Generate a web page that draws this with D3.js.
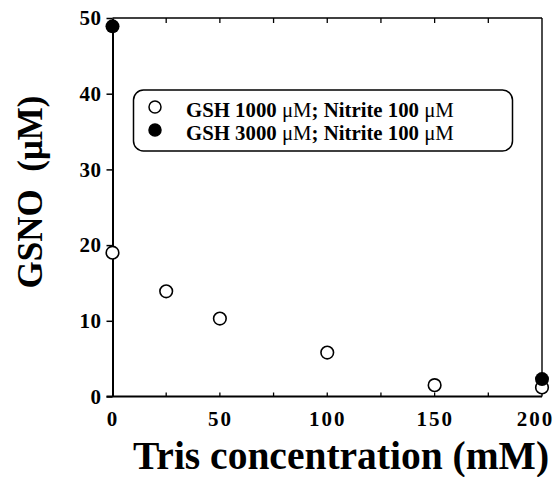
<!DOCTYPE html>
<meta charset="utf-8">
<style>
body { margin: 0; background: #fff; }
text { font-family: "Liberation Serif", "Times New Roman", serif; font-weight: bold; fill: #000; }
</style>
<svg width="560" height="477"></svg>
<script src="https://cdnjs.cloudflare.com/ajax/libs/d3/7.8.5/d3.min.js"></script>
<script>
// Tris concentration (mM) and GSNO formed (uM)
var trisLow = [0, 25, 50, 100, 150, 200];
var gsnoLow = [19.0, 13.9, 10.3, 5.8, 1.5, 1.2];     // GSH 1000 uM
var trisHigh = [0, 200];
var gsnoHigh = [48.9, 2.3];                           // GSH 3000 uM

var xTicks = [0, 50, 100, 150, 200];
var xMinor = [25, 50, 75, 100, 125, 150, 175];
var yTicks = [0, 10, 20, 30, 40, 50];

var svg = d3.select("svg");

var x = d3.scaleLinear().domain([0, 200]).range([112.5, 542]);
var y = d3.scaleLinear().domain([0, 50]).range([396.5, 18]);

// frame: top and right
svg.append("line")
    .attr("x1", x(0)).attr("x2", x(200))
    .attr("y1", y(50)).attr("y2", y(50))
    .attr("stroke", "#000").attr("stroke-width", 1.4);
svg.append("line")
    .attr("x1", x(200)).attr("x2", x(200))
    .attr("y1", y(50)).attr("y2", y(0))
    .attr("stroke", "#000").attr("stroke-width", 1.4);

// inner ticks top/bottom
svg.append("g").selectAll("line")
  .data(xMinor)
  .enter().append("line")
    .attr("x1", d => x(d)).attr("x2", d => x(d))
    .attr("y1", y(50)).attr("y2", y(50) + 5)
    .attr("stroke", "#000").attr("stroke-width", 1.3);
svg.append("g").selectAll("line")
  .data(xMinor)
  .enter().append("line")
    .attr("x1", d => x(d)).attr("x2", d => x(d))
    .attr("y1", y(0)).attr("y2", y(0) - 4)
    .attr("stroke", "#000").attr("stroke-width", 1.3);

// left axis
var yAxis = svg.append("g")
    .attr("transform", "translate(" + x(0) + ",0)")
    .call(d3.axisLeft(y).tickValues(yTicks).tickSize(6).tickPadding(5).tickSizeOuter(0));
yAxis.select(".domain").attr("stroke-width", 2);
yAxis.selectAll(".tick line").attr("stroke-width", 1.5);
yAxis.selectAll("text")
    .attr("font-family", "Liberation Serif")
    .attr("font-weight", "bold")
    .attr("font-size", 21)
    .attr("letter-spacing", 0.5)
    .attr("fill", "#000");

// bottom axis
var xAxis = svg.append("g")
    .attr("transform", "translate(0," + y(0) + ")")
    .call(d3.axisBottom(x).tickValues(xTicks).tickSize(0).tickPadding(15).tickSizeOuter(0));
xAxis.select(".domain").attr("stroke-width", 2).attr("d", "M" + (x(0) - 6) + ",0H" + x(200));
xAxis.selectAll("text")
    .attr("font-family", "Liberation Serif")
    .attr("font-weight", "bold")
    .attr("font-size", 21)
    .attr("letter-spacing", 2)
    .attr("dx", d => d === 200 ? -7 : 0)
    .attr("fill", "#000");

// axis titles
svg.append("text")
    .attr("transform", "translate(42,192) rotate(-90)")
    .attr("text-anchor", "middle")
    .attr("font-size", 35)
    .attr("xml:space", "preserve")
    .text("GSNO  (\u03bcM)");

svg.append("text")
    .attr("x", 341).attr("y", 469)
    .attr("text-anchor", "middle")
    .attr("font-size", 39.5)
    .text("Tris concentration (mM)");

// points
svg.append("g").selectAll("circle")
  .data(trisLow.map((t, i) => [t, gsnoLow[i]]))
  .enter().append("circle")
    .attr("cx", d => x(d[0])).attr("cy", d => y(d[1]))
    .attr("r", 6.3)
    .attr("fill", "#fff").attr("stroke", "#000").attr("stroke-width", 1.6);

svg.append("g").selectAll("circle")
  .data(trisHigh.map((t, i) => [t, gsnoHigh[i]]))
  .enter().append("circle")
    .attr("cx", d => x(d[0])).attr("cy", d => y(d[1]))
    .attr("r", 7)
    .attr("fill", "#000");

// legend
var legend = svg.append("g");
legend.append("rect")
    .attr("x", 133.5).attr("y", 90)
    .attr("width", 379).attr("height", 61)
    .attr("rx", 10).attr("ry", 10)
    .attr("fill", "#fff").attr("stroke", "#000").attr("stroke-width", 1.5);

var legendRows = [
  {label: "GSH 1000 ", fill: "#fff"},
  {label: "GSH 3000 ", fill: "#000"}
];
legendRows.forEach(function(r, i) {
  var yy = 107 + i * 23;
  legend.append("circle")
      .attr("cx", 155).attr("cy", yy)
      .attr("r", 6)
      .attr("fill", r.fill).attr("stroke", "#000").attr("stroke-width", 1.5);
  var t = legend.append("text")
      .attr("x", 186).attr("y", yy + 10)
      .attr("font-size", 20.8)
      .attr("xml:space", "preserve");
  t.append("tspan").text(r.label);
  t.append("tspan").attr("font-weight", "normal").text("\u03bcM");
  t.append("tspan").text("; Nitrite 100 ");
  t.append("tspan").attr("font-weight", "normal").text("\u03bcM");
});
</script>
